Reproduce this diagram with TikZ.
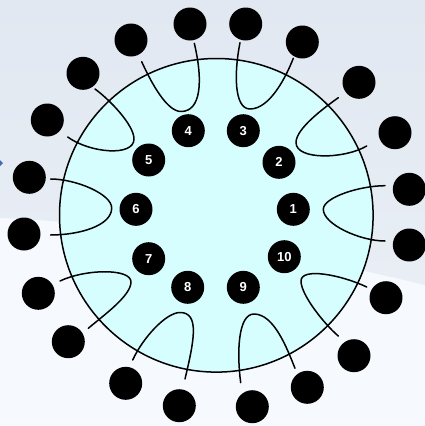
\documentclass[tikz,border=0pt]{standalone}
\usepackage{fontspec}
\setmainfont{Liberation Sans}
\definecolor{bgtop}{HTML}{E1E8F1}
\definecolor{bgmid}{HTML}{E9EEF5}
\definecolor{bglow}{HTML}{F6F9FD}
\definecolor{disccol}{HTML}{D7FEFE}
\definecolor{tipblue}{HTML}{3E6DB5}
\begin{document}
\begin{tikzpicture}[x=1pt,y=-1pt,
  dot/.style={circle,fill=black,minimum size=33pt,inner sep=0pt},
  num/.style={dot,text=white,font=\bfseries\fontsize{13}{13}\selectfont},
  loopline/.style={line width=1.5pt,line join=round,line cap=round}]
\useasboundingbox (0,0) rectangle (425,426);
% background
\fill[bglow] (0,0) rectangle (425,426);
\shade[top color=bgtop,bottom color=bgmid]
  (0,0) -- (425,0) -- (425,285) .. controls (300,255) and (150,224) .. (0,218) -- cycle;
\fill[tipblue] (0,160) -- (3,163) -- (0,166) -- cycle;
% disc
\node[circle,draw,line width=1.5pt,fill=disccol,minimum size=313.6pt,inner sep=0pt] (disc) at (216.3,215.3) {};
% loop end points
\coordinate (a1) at (141.7,61.7);  \coordinate (b1) at (194.3,43.3);
\coordinate (a2) at (240,42.7);    \coordinate (b2) at (293.3,58.3);
\coordinate (a3) at (338.3,97.7);  \coordinate (b3) at (366.7,146);
\coordinate (a4) at (385,185.7);   \coordinate (b4) at (385,241);
\coordinate (a5) at (366.7,287);   \coordinate (b5) at (338.3,336);
\coordinate (a6) at (240.7,382.7); \coordinate (b6) at (295,368.3);
\coordinate (a7) at (132.7,360);   \coordinate (b7) at (185,379);
\coordinate (a8) at (60,281);      \coordinate (b8) at (88.3,328.3);
\coordinate (a9) at (50.7,179);    \coordinate (b9) at (50.7,235);
\coordinate (a10) at (67.7,137);   \coordinate (b10) at (95,89);
% loops
\draw[loopline] (a1) .. controls +(10,22) and +(-14,0) .. (181,111.5) .. controls +(20,0) and +(9,38) .. (b1);
\draw[loopline] (a2) .. controls +(-6,30) and +(-16,0) .. (250,109) .. controls +(20,0) and +(-7,18) .. (b2);
\draw[loopline] (a3) .. controls +(-14,10) and +(0,-14) .. (296,142.5) .. controls +(0,18) and +(-22,13) .. (b3);
\draw[loopline] (a4) .. controls +(-25,0) and +(0,-12) .. (323.3,209.3) .. controls +(0,15) and +(-25,0) .. (b4);
\draw[loopline] (a5) .. controls +(-25,-12) and +(0,-14) .. (301,281) .. controls +(0,14) and +(-14,-12) .. (b5);
\draw[loopline] (a6) .. controls +(-4,-30) and +(-16,0) .. (254,314) .. controls +(20,0) and +(-8,-20) .. (b6);
\draw[loopline] (a7) .. controls +(10,-22) and +(-14,0) .. (180,312.5) .. controls +(20,0) and +(9,-38) .. (b7);
\draw[loopline] (a8) .. controls +(25,-12) and +(0,-14) .. (131,282) .. controls +(0,14) and +(14,-12) .. (b8);
\draw[loopline] (a9) .. controls +(25,0) and +(0,-14) .. (111.7,208) .. controls +(0,18) and +(28,0) .. (b9);
\draw[loopline] (a10) .. controls +(22,16) and +(0,18) .. (134,139) .. controls +(0,-14) and +(15,11) .. (b10);
% inner numbered circles
\node[num] (n1) at (293.3,209.3) {1};
\node[num] (n2) at (279,162.3) {2};
\node[num] (n3) at (243.3,130.7) {3};
\node[num] (n4) at (188.3,130.7) {4};
\node[num] (n5) at (148.7,160) {5};
\node[num] (n6) at (136,209.3) {6};
\node[num] (n7) at (148.7,258.7) {7};
\node[num] (n8) at (187.7,287.3) {8};
\node[num] (n9) at (243.3,287.3) {9};
\node[num] (n10) at (284.3,256.7) {10};
% outer circles
\node[dot] (o1) at (190,24) {};
\node[dot] (o2) at (245.7,24) {};
\node[dot] (o3) at (131,40) {};
\node[dot] (o4) at (302.3,42) {};
\node[dot] (o5) at (83,73.3) {};
\node[dot] (o6) at (359,82.3) {};
\node[dot] (o7) at (47.3,120) {};
\node[dot] (o8) at (395,132.7) {};
\node[dot] (o9) at (29.3,177.3) {};
\node[dot] (o10) at (409.3,189.3) {};
\node[dot] (o11) at (24,234) {};
\node[dot] (o12) at (409.3,245) {};
\node[dot] (o13) at (38.3,293.3) {};
\node[dot] (o14) at (386,297.7) {};
\node[dot] (o15) at (68.3,341.7) {};
\node[dot] (o16) at (354,355.7) {};
\node[dot] (o17) at (125.7,383.3) {};
\node[dot] (o18) at (307.3,387.3) {};
\node[dot] (o19) at (179.3,405.7) {};
\node[dot] (o20) at (252.3,406.7) {};
\end{tikzpicture}
\end{document}
